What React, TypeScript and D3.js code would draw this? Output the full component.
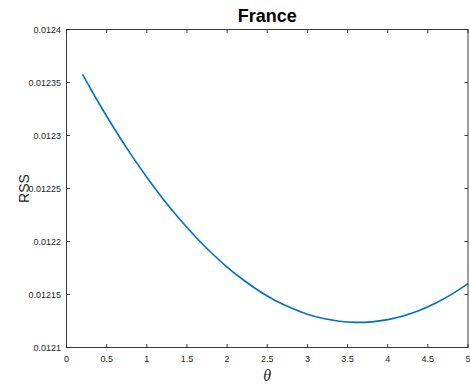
import React from "react";
import * as d3 from "d3";

const theta = [0.2, 0.4, 0.6, 0.8, 1.0, 1.2, 1.4, 1.6, 1.8, 2.0, 2.2, 2.4, 2.6, 2.8, 3.0, 3.2, 3.4, 3.6, 3.8, 4.0, 4.2, 4.4, 4.6, 4.8, 5.0];
const rss = [0.0123576, 0.0123309, 0.0123059, 0.0122824, 0.0122606, 0.0122404, 0.0122219, 0.0122049, 0.0121896, 0.0121759, 0.0121639, 0.0121533, 0.0121444, 0.0121372, 0.0121314, 0.0121273, 0.0121247, 0.0121237, 0.0121242, 0.0121263, 0.01213, 0.0121352, 0.012142, 0.0121503, 0.0121602];
const xTicks = [0, 0.5, 1, 1.5, 2, 2.5, 3, 3.5, 4, 4.5, 5];
const yTicks = [0.0121, 0.01215, 0.0122, 0.01225, 0.0123, 0.01235, 0.0124];
const yTickLabels = ["0.0121", "0.01215", "0.0122", "0.01225", "0.0123", "0.01235", "0.0124"];
const title = "France";
const xLabel = "θ";
const yLabel = "RSS";

export default function App() {
  const W = 470, H = 389;
  const left = 66.5, right = 468, top = 29.5, bottom = 347.5;
  const x = d3.scaleLinear().domain([0, 5]).range([left, right]);
  const y = d3.scaleLinear().domain([0.0121, 0.0124]).range([bottom, top]);
  const pts: [number, number][] = theta.map((t, i) => [t, rss[i]]);
  const line = d3.line<[number, number]>().x(d => x(d[0])).y(d => y(d[1])).curve(d3.curveNatural);
  const axisColor = "#262626";
  const tl = 3.5;
  const font = "'Liberation Sans', Arial, Helvetica, sans-serif";
  return (
    <svg width={W} height={H} style={{ position: "absolute", left: 0, top: 0, background: "#fff" }}>
      <rect x={0} y={0} width={W} height={H} fill="#fff" />
      <path d={line(pts) ?? ""} fill="none" stroke="#0072BD" strokeWidth={1.6} />
      <rect x={left} y={top} width={right - left} height={bottom - top} fill="none" stroke={axisColor} strokeWidth={0.9} />
      {xTicks.map((t, i) => (
        <g key={"x" + i}>
          <line x1={x(t)} x2={x(t)} y1={bottom} y2={bottom - tl} stroke={axisColor} strokeWidth={0.9} />
          <line x1={x(t)} x2={x(t)} y1={top} y2={top + tl} stroke={axisColor} strokeWidth={0.9} />
          <text x={x(t)} y={362} textAnchor="middle" fontFamily={font} fontSize={9} fill={axisColor}>{String(t)}</text>
        </g>
      ))}
      {yTicks.map((t, i) => (
        <g key={"y" + i}>
          <line x1={left} x2={left + tl} y1={y(t)} y2={y(t)} stroke={axisColor} strokeWidth={0.9} />
          <line x1={right} x2={right - tl} y1={y(t)} y2={y(t)} stroke={axisColor} strokeWidth={0.9} />
          <text x={61} y={y(t) + 3.3} textAnchor="end" fontFamily={font} fontSize={9} fill={axisColor}>{yTickLabels[i]}</text>
        </g>
      ))}
      <text x={(left + right) / 2} y={21.5} textAnchor="middle" fontFamily={font} fontWeight="bold" fontSize={18} fill="#000">{title}</text>
      <text transform={`translate(28.5,${(top + bottom) / 2}) rotate(-90)`} textAnchor="middle" fontFamily={font} fontSize={14} fill={axisColor}>{yLabel}</text>
      <text x={(left + right) / 2} y={381} textAnchor="middle" fontFamily="'Liberation Serif', 'Times New Roman', serif" fontStyle="italic" fontSize={16} fill={axisColor}>{xLabel}</text>
    </svg>
  );
}
